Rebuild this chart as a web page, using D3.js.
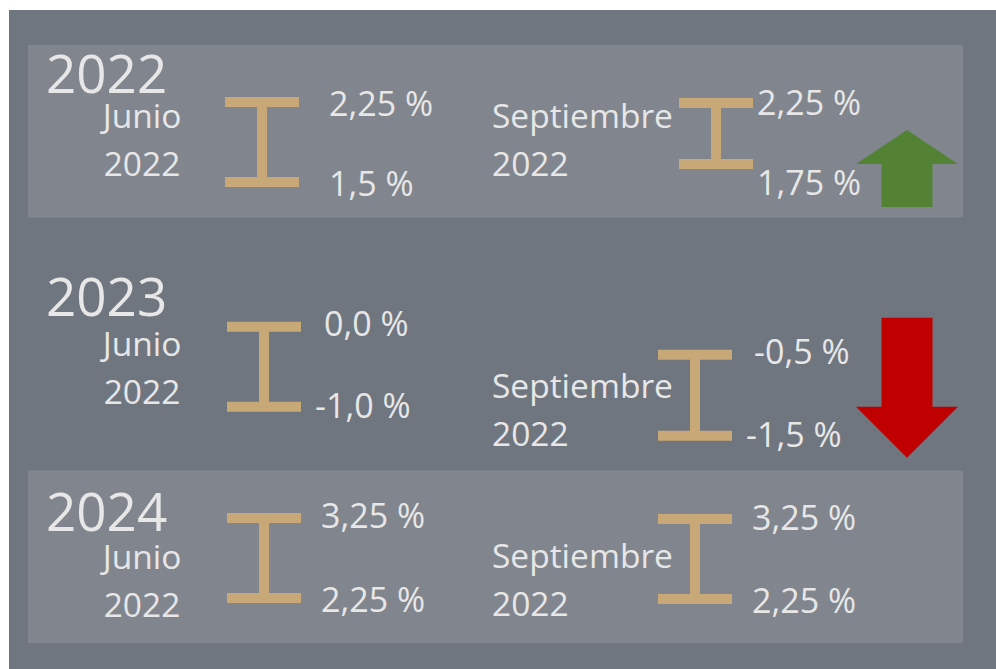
<!DOCTYPE html>
<head>
  <meta charset="utf-8">
  <style>
    body { margin: 0; background: #ffffff; }
    text { font-family: "Open Sans", "Noto Sans", sans-serif; fill: #e7e7e7; }
  </style>
</head>
<body>
  <div id="chart"></div>
  <script src="https://cdnjs.cloudflare.com/ajax/libs/d3/7.8.5/d3.min.js"></script>
  <script>

    // ---- data ----
    var years = ["2022", "2023", "2024"];
    var months = ["Junio", "Septiembre"];
    var refYear = "2022";
    var juneHigh = [2.25, 0.0, 3.25];
    var juneLow = [1.5, -1.0, 2.25];
    var septHigh = [2.25, -0.5, 3.25];
    var septLow = [1.75, -1.5, 2.25];
    var trend = ["up", "down", null];
    var shaded = [true, false, true];

    // ---- layout (offsets from row top / column anchor) ----
    var yearDy = [48, 58, 60.5];
    var cellLayout = [
      [{lab: 83, top: 52, bot: 142, hi: 71, lo: 151, dx: -1, hiX: 104, loX: 104},
       {lab: 83, top: 53, bot: 124, hi: 70, lo: 150, dx: 11, hiX: 78, loX: 78}],
      [{lab: 98, top: 64, bot: 154, hi: 78, lo: 160, dx: 1, hiX: 97, loX: 88},
       {lab: 140, top: 92, bot: 183, hi: 106, lo: 189, dx: -10, hiX: 96, loX: 88}],
      [{lab: 98.5, top: 42.5, bot: 132.5, hi: 57.5, lo: 141.5, dx: 1, hiX: 94, loX: 94},
       {lab: 97.5, top: 43.5, bot: 133.5, hi: 59.5, lo: 142.5, dx: -10, hiX: 94, loX: 94}]
    ];
    var arrowLayout = [{tip: 85, head: 119, tail: 162}, {tip: 200, head: 149, tail: 60}, null];

    var width = 996, height = 669;
    var beamW = 74, beamT = 10;

    var svg = d3.select("#chart").append("svg")
      .attr("width", width)
      .attr("height", height);

    var y = d3.scaleBand().domain(years).range([45, 643]).paddingInner(0.189);
    var x = d3.scalePoint().domain(months).range([226, 668]);

    var locale = d3.formatLocale({decimal: ",", thousands: ".", grouping: [3], currency: ["", " €"], minus: "-"});
    var f2 = locale.format(".2f");
    function fmt(v) {
      var s = f2(v);
      if (s.slice(-1) == "0") s = s.slice(0, -1);
      return s + " %";
    }

    // outer background
    svg.append("rect")
      .attr("x", 9).attr("y", 10)
      .attr("width", width - 9).attr("height", height - 10)
      .attr("fill", "#70767f");

    // shaded panels
    svg.append("g").selectAll("rect")
      .data(years.filter(function(d, i) { return shaded[i]; }))
      .enter().append("rect")
      .attr("x", 28)
      .attr("width", 935)
      .attr("y", function(d) { return y(d); })
      .attr("height", y.bandwidth())
      .attr("fill", "#81858d");

    var rows = svg.append("g").selectAll("g")
      .data(years)
      .enter().append("g")
      .attr("transform", function(d) { return "translate(0," + y(d) + ")"; });

    rows.append("text")
      .attr("x", 46)
      .attr("y", function(d, i) { return yearDy[i]; })
      .style("font-size", "53px")
      .text(function(d) { return d; });

    rows.each(function(yr, i) {
      var row = d3.select(this);
      var cells = [
        {month: months[0], hi: juneHigh[i], lo: juneLow[i], L: cellLayout[i][0]},
        {month: months[1], hi: septHigh[i], lo: septLow[i], L: cellLayout[i][1]}
      ];

      cells.forEach(function(c, j) {
        var x0 = x(c.month) + c.L.dx;
        var g = row.append("g");

        // month label
        var lx = j == 0 ? x(c.month) - 84 : x(c.month) - 176;
        var lab = g.append("text")
          .attr("x", lx)
          .attr("y", c.L.lab)
          .attr("text-anchor", j == 0 ? "middle" : "start")
          .style("font-size", "33.5px");
        lab.append("tspan").text(c.month);
        lab.append("tspan")
          .attr("x", lx)
          .attr("dy", 48)
          .text(refYear);

        // I-beam
        g.append("path")
          .attr("fill", "#c8a876")
          .attr("d", function() {
            var t = c.L.top, b = c.L.bot, m = x0 + beamW / 2;
            return "M" + x0 + "," + t + "H" + (x0 + beamW) + "V" + (t + beamT) +
              "H" + (m + beamT / 2) + "V" + (b - beamT) + "H" + (x0 + beamW) + "V" + b +
              "H" + x0 + "V" + (b - beamT) + "H" + (m - beamT / 2) + "V" + (t + beamT) +
              "H" + x0 + "Z";
          });

        // range values
        g.append("text")
          .attr("x", x0 + c.L.hiX)
          .attr("y", c.L.hi)
          .style("font-size", "34px")
          .text(fmt(c.hi));
        g.append("text")
          .attr("x", x0 + c.L.loX)
          .attr("y", c.L.lo)
          .style("font-size", "34px")
          .text(fmt(c.lo));
      });

      // trend arrow
      if (trend[i]) {
        var a = arrowLayout[i];
        var cx = x(months[1]) + 239, hw = 51, sw = 25.5;
        svg.append("path")
          .attr("transform", "translate(0," + y(yr) + ")")
          .attr("fill", trend[i] == "up" ? "#548235" : "#c00000")
          .attr("d", "M" + cx + "," + a.tip +
            "L" + (cx + hw) + "," + a.head +
            "H" + (cx + sw) + "V" + a.tail +
            "H" + (cx - sw) + "V" + a.head +
            "H" + (cx - hw) + "Z");
      }
    });

  </script>
</body>
